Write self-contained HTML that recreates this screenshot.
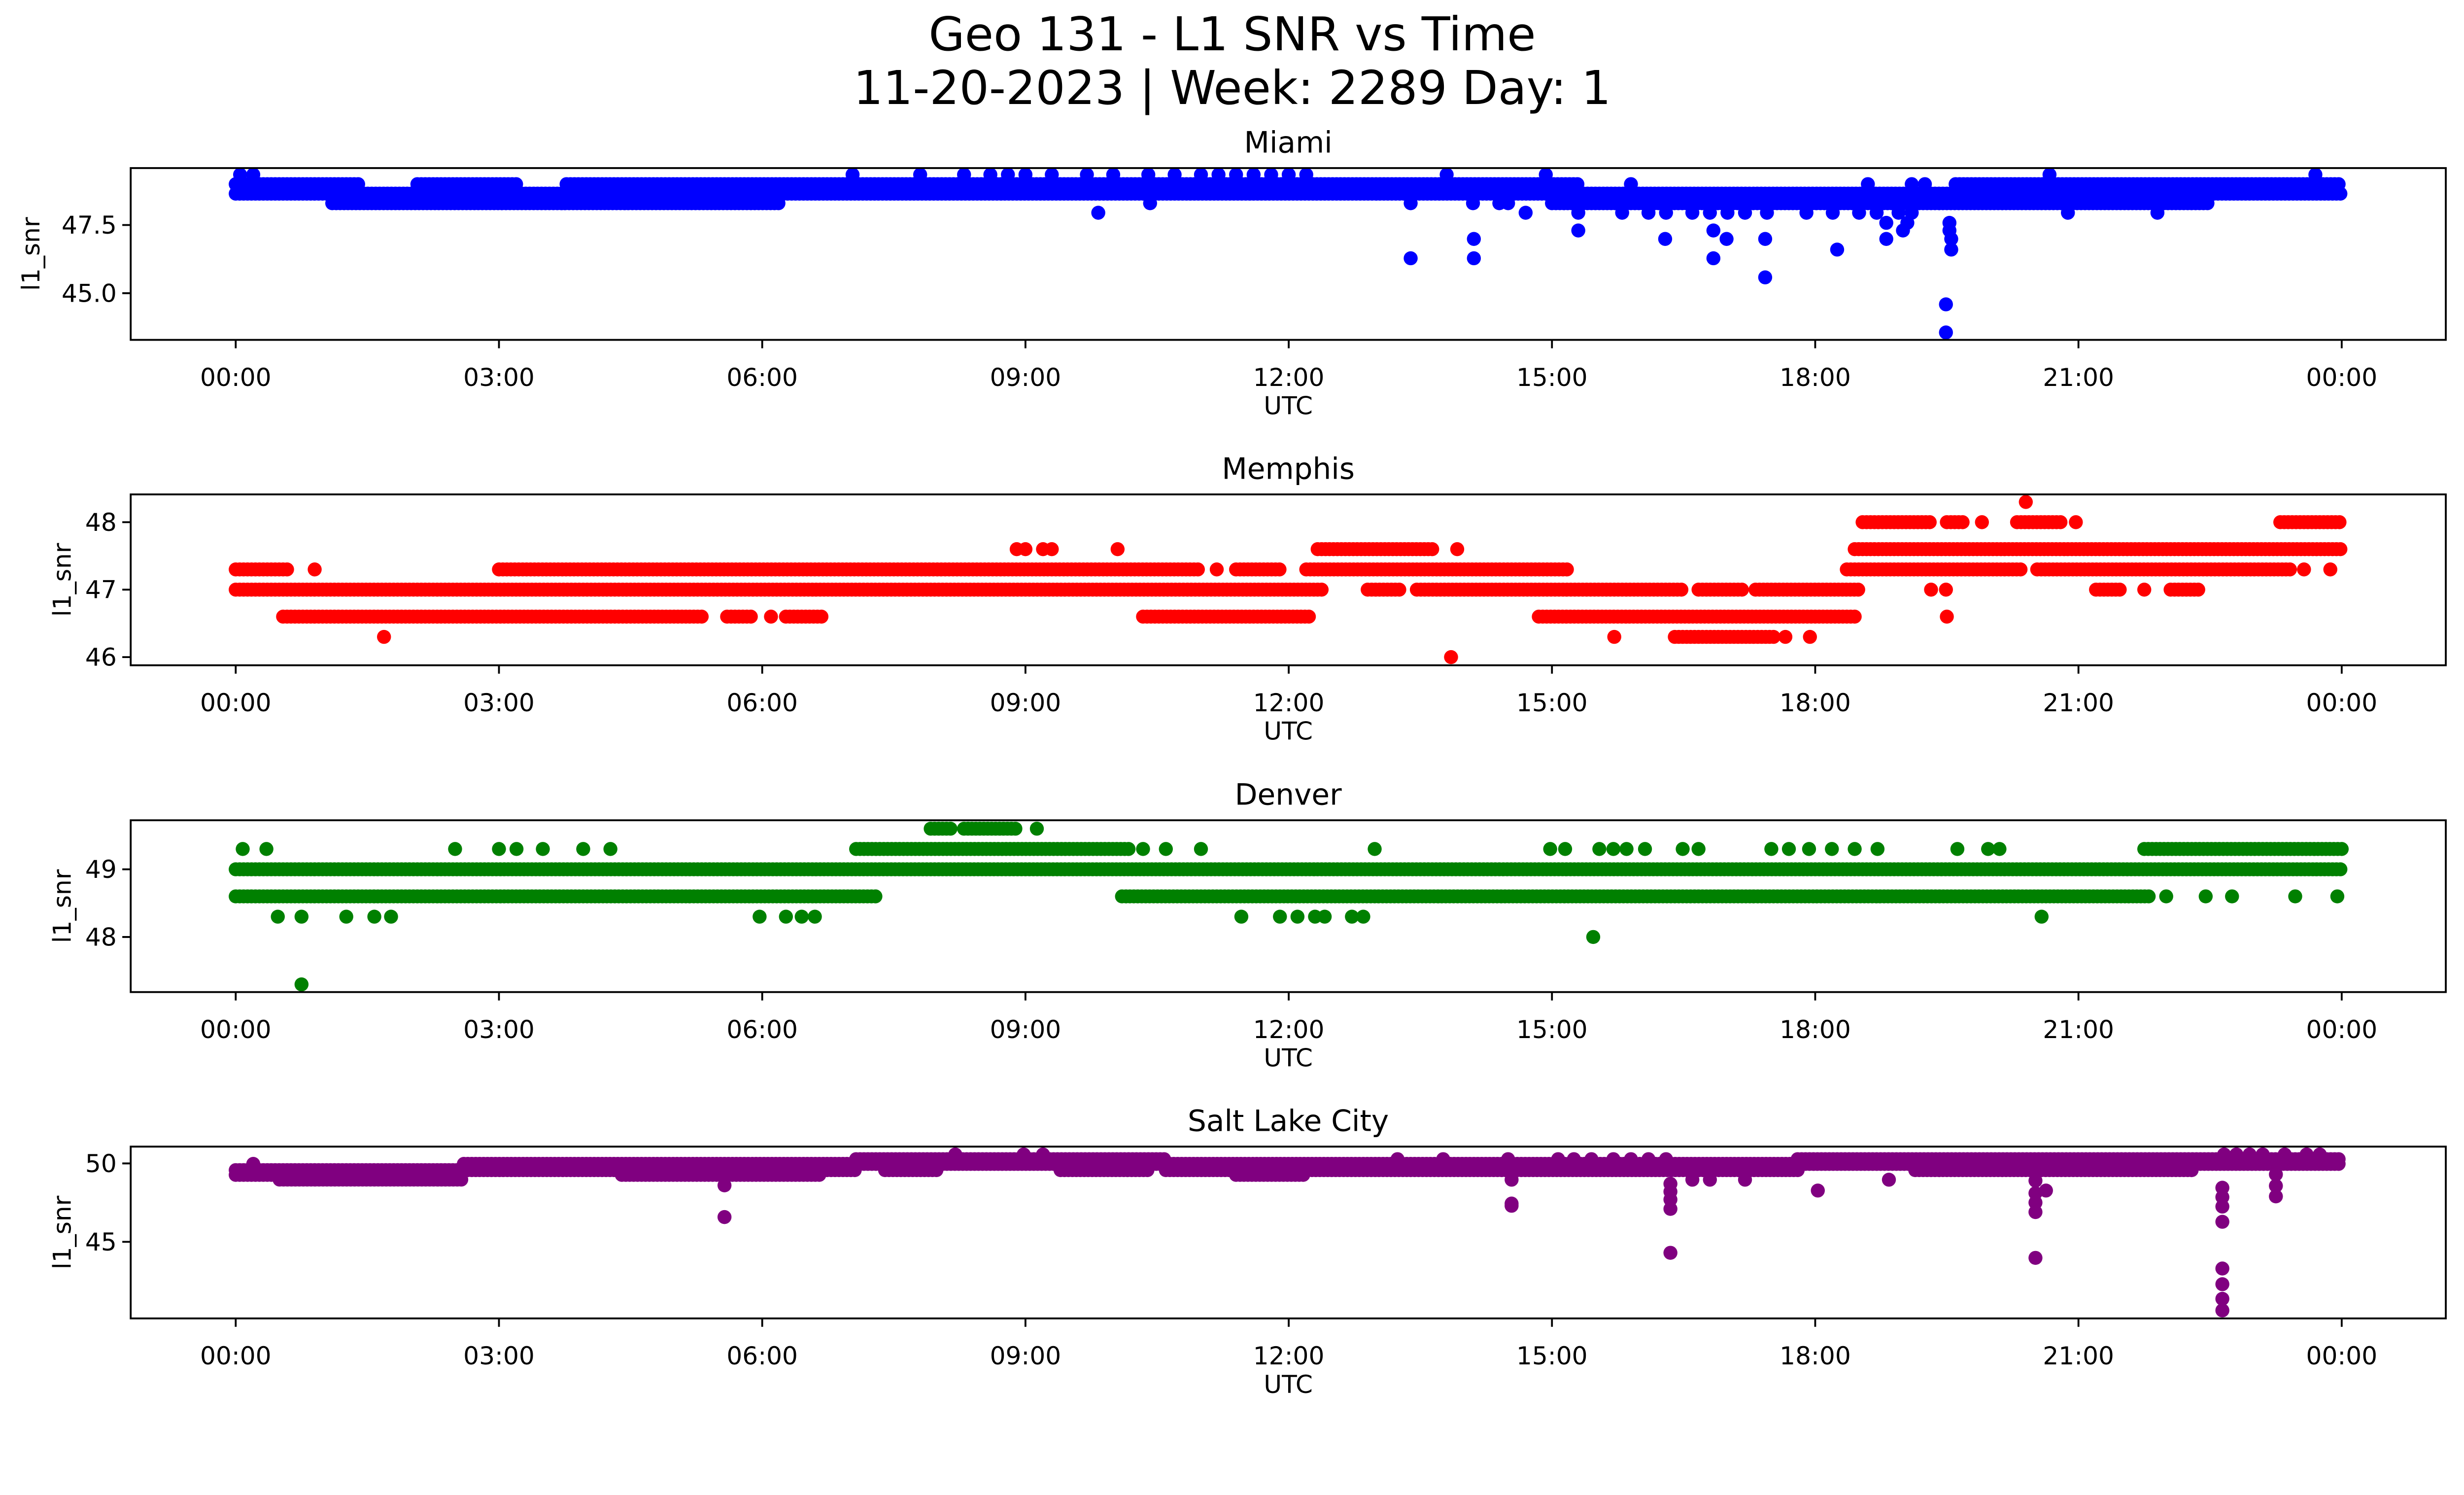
<!DOCTYPE html>
<html><head><meta charset="utf-8"><style>
html,body{margin:0;padding:0;background:#fff;overflow:hidden;}
svg{display:block;font-family:"DejaVu Sans","Liberation Sans",sans-serif;width:100vw;height:calc(100vw * 0.574541);}
</style></head><body>
<svg id="fig" xmlns="http://www.w3.org/2000/svg" viewBox="0 0 5279 3033" preserveAspectRatio="none">
<rect width="5279" height="3033" fill="#fff"/>
<text x="2640" y="74" font-size="100" text-anchor="middle" dominant-baseline="central">Geo 131 - L1 SNR vs Time</text>
<text x="2640" y="189" font-size="100" text-anchor="middle" dominant-baseline="central">11-20-2023 | Week: 2289 Day: 1</text>
</svg>
<script>
// ---------- DATA (hours UTC, l1_snr) ----------
const hourTicks = [0,3,6,9,12,15,18,21,24];
const hourTickLabels = ["00:00","03:00","06:00","09:00","12:00","15:00","18:00","21:00","00:00"];

const miamiSegments = [[0,1.4,49.0],[0,1.4,48.65],[1.1,6.2,48.65],[1.1,6.2,48.3],[2.07,3.21,49.0],[3.77,15.3,49.0],[6.2,15.0,48.65],[15.0,22.5,48.65],[15.0,22.5,48.3],[19.6,24,49.0],[22.5,24,48.65]];
const miamiPoints = [[0.05,49.35],[0.2,49.35],[7.03,49.35],[7.8,49.35],[8.3,49.35],[8.6,49.35],[8.8,49.35],[9.0,49.35],[9.3,49.35],[9.7,49.35],[10.0,49.35],[10.4,49.35],[10.7,49.35],[11.0,49.35],[11.2,49.35],[11.4,49.35],[11.6,49.35],[11.8,49.35],[12.0,49.35],[12.2,49.35],[13.8,49.35],[14.93,49.35],[20.67,49.35],[23.7,49.35],
[15.9,49.0],[18.6,49.0],[19.1,49.0],[19.25,49.0],
[10.42,48.3],[13.39,48.3],[14.1,48.3],[14.4,48.3],[14.5,48.3],
[9.83,47.95],[14.7,47.95],[15.3,47.95],[15.8,47.95],[16.1,47.95],[16.3,47.95],[16.6,47.95],[16.8,47.95],[17.0,47.95],[17.2,47.95],[17.45,47.95],[17.9,47.95],[18.2,47.95],[18.5,47.95],[18.7,47.95],[18.95,47.95],[19.1,47.95],[20.88,47.95],[21.9,47.95],
[13.39,46.28],[14.11,46.99],[14.11,46.28],[15.3,47.3],[16.29,46.99],[16.84,47.3],[16.84,46.28],[16.99,46.99],[17.43,46.99],[17.43,45.58],[18.25,46.6],[18.81,46.99],[18.81,47.58],[19.0,47.3],[19.05,47.58],[19.49,44.59],[19.49,43.56],[19.55,46.6],[19.55,46.99],[19.53,47.3],[19.53,47.58]];

const memphisSegments = [[12.33,13.67,47.6],[18.45,24,47.6],[18.54,19.32,48.0],[19.5,19.7,48.0],[20.3,20.8,48.0],[23.3,24,48.0],
[0,0.6,47.3],[3.0,10.97,47.3],[11.4,11.9,47.3],[12.2,15.2,47.3],[18.36,20.36,47.3],[20.53,23.44,47.3],
[0,12.4,47.0],[12.9,13.3,47.0],[13.46,16.5,47.0],[16.67,17.19,47.0],[17.32,18.5,47.0],[21.2,21.5,47.0],[22.05,22.4,47.0],
[0.54,5.33,46.6],[5.6,5.9,46.6],[6.27,6.7,46.6],[10.34,12.24,46.6],[14.85,18.45,46.6],[16.4,17.53,46.3]];
const memphisPoints = [[8.9,47.6],[9.0,47.6],[9.2,47.6],[9.3,47.6],[10.05,47.6],[13.92,47.6],[20.4,48.3],[19.9,48.0],[20.97,48.0],
[0.9,47.3],[11.18,47.3],[23.57,47.3],[23.87,47.3],[19.32,47.0],[19.49,47.0],[21.75,47.0],[6.1,46.6],[19.5,46.6],
[1.69,46.3],[15.71,46.3],[17.66,46.3],[17.94,46.3],[13.85,46.0]];

const denverSegments = [[7.92,8.17,49.6],[8.3,8.9,49.6],[7.07,10.2,49.3],[21.75,24,49.3],[0,24,49.0],[0,7.3,48.6],[10.1,21.84,48.6]];
const denverPoints = [[9.13,49.6],[0.08,49.3],[0.35,49.3],[2.5,49.3],[3.0,49.3],[3.2,49.3],[3.5,49.3],[3.96,49.3],[4.27,49.3],[10.34,49.3],[10.6,49.3],[11.0,49.3],[12.98,49.3],[14.98,49.3],[15.15,49.3],[15.54,49.3],[15.7,49.3],[15.85,49.3],[16.06,49.3],[16.49,49.3],[16.67,49.3],[17.5,49.3],[17.7,49.3],[17.93,49.3],[18.19,49.3],[18.45,49.3],[18.71,49.3],[19.62,49.3],[19.97,49.3],[20.1,49.3],
[22.0,48.6],[22.45,48.6],[22.75,48.6],[23.47,48.6],[23.95,48.6],
[0.48,48.3],[0.75,48.3],[1.26,48.3],[1.58,48.3],[1.77,48.3],[5.97,48.3],[6.27,48.3],[6.45,48.3],[6.6,48.3],[11.46,48.3],[11.9,48.3],[12.1,48.3],[12.3,48.3],[12.41,48.3],[12.72,48.3],[12.85,48.3],[20.58,48.3],[15.47,48.0],[0.75,47.3]];

const slcSegments = [[0,2.6,49.57],[0,2.6,49.27],[0.5,2.6,48.97],[2.6,7.07,49.97],[2.6,7.07,49.57],[4.4,6.65,49.27],[7.07,10.6,50.27],[7.07,10.6,49.97],[7.4,8.0,49.57],[9.4,10.4,49.57],[10.6,16.36,49.97],[10.6,16.36,49.57],[11.4,12.2,49.27],[16.36,17.8,49.97],[16.36,17.8,49.57],[17.8,24,50.27],[17.8,24,49.97],[19.14,22.3,49.57]];
const slcPoints = [[0.2,49.97],[8.2,50.57],[8.98,50.57],[9.2,50.57],[13.24,50.27],[13.76,50.27],[14.5,50.27],[15.07,50.27],[15.25,50.27],[15.45,50.27],[15.7,50.27],[15.9,50.27],[16.1,50.27],[16.3,50.27],
[22.66,50.57],[22.8,50.57],[22.95,50.57],[23.1,50.57],[23.35,50.57],[23.6,50.57],[23.75,50.57],
[16.6,48.96],[16.8,48.96],[17.2,48.96],
[5.57,48.6],[5.57,46.58],[14.54,48.96],[14.54,47.44],[14.54,47.3],[16.35,48.7],[16.35,48.2],[16.35,47.7],[16.35,47.1],[16.35,44.3],[18.03,48.27],[18.84,48.96],[20.51,48.9],[20.51,48.1],[20.51,47.5],[20.51,46.9],[20.51,43.98],[20.63,48.27],[22.64,48.45],[22.64,47.85],[22.64,47.25],[22.64,46.28],[22.64,43.3],[22.64,42.3],[22.64,41.37],[22.64,40.63],[23.25,49.3],[23.25,48.57],[23.25,47.9]];

const miamiYTicks = [45.0,47.5];
const memphisYTicks = [46,47,48];
const denverYTicks = [48,49];
const slcYTicks = [45,50];

// ---------- LAYOUT ----------
const NS = "http://www.w3.org/2000/svg";
const svg = document.getElementById('fig');
const AX_L = 280, AX_R = 5240, X0 = 505, PX_PER_H = 188, R = 15, STEP_H = 0.045;
function xScale(h){ return X0 + h*PX_PER_H; }
function mk(tag, attrs, parent){ const e=document.createElementNS(NS,tag); for(const k in attrs) e.setAttribute(k,attrs[k]); (parent||svg).appendChild(e); return e; }

const panels = [
 {name:'miami', title:'Miami', color:'#0000ff', top:360, bottom:728, refV:47.5, refY:482, ppu:58.4, segs:miamiSegments, pts:miamiPoints, yticks:miamiYTicks, fmt:v=>v.toFixed(1)},
 {name:'memphis', title:'Memphis', color:'#ff0000', top:1059, bottom:1425, refV:47, refY:1263, ppu:144.5, segs:memphisSegments, pts:memphisPoints, yticks:memphisYTicks, fmt:v=>String(v)},
 {name:'denver', title:'Denver', color:'#008000', top:1757, bottom:2125, refV:49, refY:1862, ppu:145, segs:denverSegments, pts:denverPoints, yticks:denverYTicks, fmt:v=>String(v)},
 {name:'salt-lake-city', title:'Salt Lake City', color:'#800080', top:2456, bottom:2824, refV:50, refY:2492, ppu:33.6, segs:slcSegments, pts:slcPoints, yticks:slcYTicks, fmt:v=>String(v)}
];

panels.forEach((p,i)=>{
  const yScale = v => p.refY - (v - p.refV)*p.ppu;
  const g = mk('g',{});
  
  
  const cp = mk('clipPath',{id:'clip'+i}, g);
  mk('rect',{x:AX_L,y:p.top,width:AX_R-AX_L,height:p.bottom-p.top}, cp);
  const marks = mk('g',{'clip-path':'url(#clip'+i+')', fill:p.color}, g);
  
  
  p.segs.forEach(s=>{
    for(let h=s[0]; h<=s[1]+1e-9; h+=STEP_H){
      const c = mk('circle',{cx:xScale(h).toFixed(1), cy:yScale(s[2]).toFixed(1), r:R}, marks);
      
      
    }
  });
  p.pts.forEach(pt=>{
    const c = mk('circle',{cx:xScale(pt[0]).toFixed(1), cy:yScale(pt[1]).toFixed(1), r:R}, marks);
    
    
  });
  const frame = mk('rect',{x:AX_L,y:p.top,width:AX_R-AX_L,height:p.bottom-p.top,fill:'none',stroke:'#000','stroke-width':4}, g);
  
  
  hourTicks.forEach((h,k)=>{
    const x = xScale(h);
    mk('line',{x1:x,x2:x,y1:p.bottom,y2:p.bottom+18,stroke:'#000','stroke-width':4}, g);
    const t = mk('text',{x:x,y:p.bottom+80,'font-size':53,'text-anchor':'middle','dominant-baseline':'central'}, g);
    t.textContent = hourTickLabels[k];
    
    
  });
  let minLeft = AX_L;
  p.yticks.forEach(v=>{
    const y = yScale(v);
    mk('line',{x1:AX_L-18,x2:AX_L,y1:y,y2:y,stroke:'#000','stroke-width':4}, g);
    const t = mk('text',{x:AX_L-30,y:y,'font-size':53,'text-anchor':'end','dominant-baseline':'central'}, g);
    const label = p.fmt(v);
    t.textContent = label;
    
    
    minLeft = Math.min(minLeft, AX_L-30-label.length*33.5);
  });
  const xl = mk('text',{x:2760,y:p.bottom+141,'font-size':53,'text-anchor':'middle','dominant-baseline':'central'}, g);
  xl.textContent = 'UTC';
  
  
  const lx = minLeft - 50, ly = (p.top+p.bottom)/2;
  const yl = mk('text',{x:lx,y:ly,'font-size':53,'text-anchor':'middle','dominant-baseline':'central',transform:'rotate(-90 '+lx+' '+ly+')'}, g);
  yl.textContent = 'l1_snr';
  
  
  const tt = mk('text',{x:2760,y:p.top-54,'font-size':63,'text-anchor':'middle','dominant-baseline':'central'}, g);
  tt.textContent = p.title;
  
  
});
</script>
</body></html>
